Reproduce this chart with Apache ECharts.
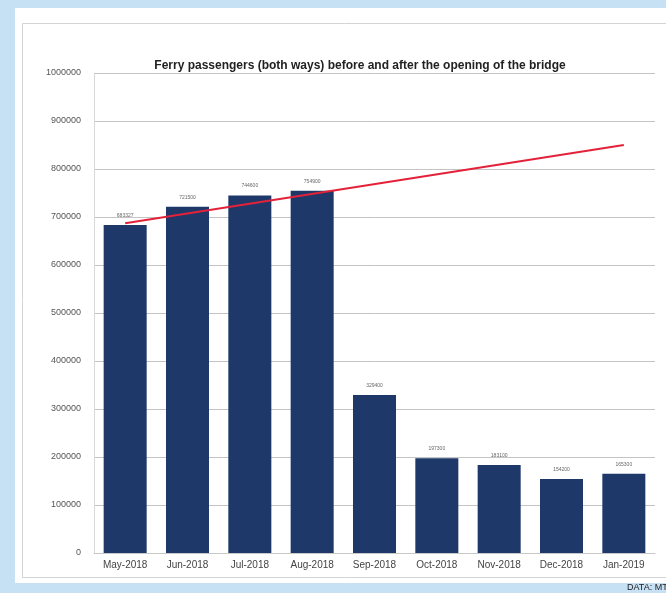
<!DOCTYPE html>
<html>
<head>
<meta charset="utf-8">
<script src="https://cdn.jsdelivr.net/npm/echarts@6/dist/echarts.min.js"></script>
<style>
html,body{margin:0;padding:0;background:#c6e0f4;}
#c{width:666px;height:593px;}
</style>
</head>
<body>
<div id="c"></div>
<script>
var categories = ['May-2018','Jun-2018','Jul-2018','Aug-2018','Sep-2018','Oct-2018','Nov-2018','Dec-2018','Jan-2019'];
var passengers = [683327, 721500, 744600, 754900, 329400, 197300, 183100, 154200, 165300];
var trendLine = [687000, null, null, null, null, null, null, null, 850000];
var yTicks = [0, 100000, 200000, 300000, 400000, 500000, 600000, 700000, 800000, 900000, 1000000];

var chart = echarts.init(document.getElementById('c'), null, {renderer:'canvas'});
chart.setOption({
  backgroundColor: '#c6e0f4',
  animation: false,
  graphic: [
    {type:'rect', shape:{x:15, y:8, width:660, height:575}, style:{fill:'#ffffff'}, z:-10},
    {type:'rect', shape:{x:22.5, y:23.5, width:650, height:554}, style:{fill:'none', stroke:'#d4d4d4', lineWidth:1}, z:-9},
    {type:'text', left:627, top:583, style:{text:'DATA: MTC', fill:'#222', font:'9px "Liberation Sans", sans-serif'}}
  ],
  title: {
    text: 'Ferry passengers (both ways) before and after the opening of the bridge',
    left: 355, top: 55, textAlign: 'center',
    textStyle: {fontSize: 12, fontWeight: 'bold', color: '#222', fontFamily: '"Liberation Sans", sans-serif'}
  },
  grid: {left: 94, right: 11, top: 73, bottom: 40},
  xAxis: {
    type: 'category',
    data: categories,
    axisLine: {show: true, lineStyle: {color: '#c8c8c8'}},
    axisTick: {show: false},
    axisLabel: {color: '#444', fontSize: 10, margin: 7, fontFamily: '"Liberation Sans", sans-serif'}
  },
  yAxis: {
    type: 'value',
    min: yTicks[0], max: yTicks[yTicks.length-1], interval: 100000,
    axisLine: {show: true, lineStyle: {color: '#d8d8d8'}},
    axisTick: {show: false},
    splitLine: {lineStyle: {color: '#c4c4c4', width: 1}},
    axisLabel: {color: '#555', fontSize: 9, margin: 13, fontFamily: '"Liberation Sans", sans-serif',
      formatter: function (v) { return String(v); }}
  },
  series: [
    {
      type: 'bar',
      data: passengers,
      barWidth: '69%',
      itemStyle: {color: '#1d3869'},
      label: {show: true, position: 'top', distance: 7, fontSize: 5, color: '#666', fontFamily: '"Liberation Sans", sans-serif'}
    },
    {
      type: 'line',
      data: trendLine,
      connectNulls: true,
      symbol: 'none',
      lineStyle: {color: '#e3223a', width: 2},
      z: 5
    }
  ]
});
</script>
</body>
</html>
